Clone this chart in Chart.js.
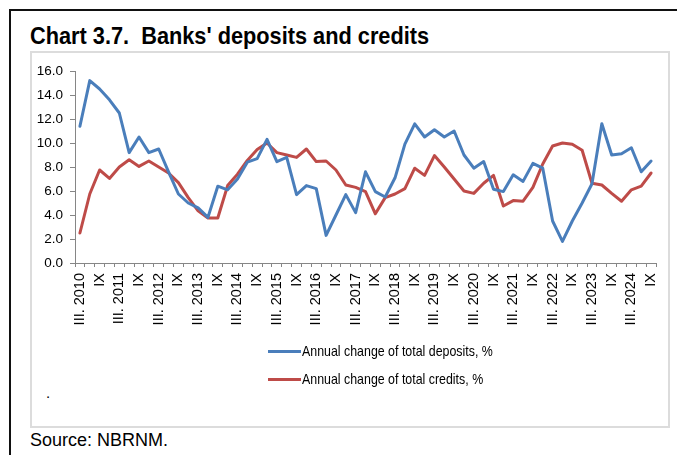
<!DOCTYPE html>
<html>
<head>
<meta charset="utf-8">
<script src="https://cdn.jsdelivr.net/npm/chart.js@4.4.1/dist/chart.umd.min.js"></script>
<style>
  html, body { margin: 0; padding: 0; background: #fff; }
  body { width: 677px; height: 455px; position: relative; overflow: hidden; }
  .frame { position: absolute; left: 9px; top: 9px; width: 700px; height: 480px;
           border-left: 2px solid #111; border-top: 2px solid #111; }
  /* narrow look: squeeze the regular face */
  .narrow { display: inline-block; transform-origin: 0 50%; white-space: nowrap; }
  .title { position: absolute; left: 30px; top: 22px; margin: 0;
           font: bold 24px "Liberation Sans", sans-serif; color: #000; white-space: nowrap; }
  .title .narrow { transform: scaleX(0.906); }
  .box { position: absolute; left: 30px; top: 51px; width: 636px; height: 373px;
         border: 2px solid #dcdcdc; }
  .plot { position: absolute; left: 30px; top: 53px; width: 637px; height: 290px; }
  .legend { position: absolute; left: 268px; top: 340px;
            font: 15px "Liberation Sans", sans-serif; color: #000; }
  .legend div { height: 28px; line-height: 20px; white-space: nowrap; }
  .legend .narrow { transform: scaleX(0.826); vertical-align: middle; }
  .legend span.mark { display: inline-block; width: 33px; height: 3px; vertical-align: middle;
                      margin-right: 1px; }
  .dot { position: absolute; left: 46px; top: 384px; font: 15px "Liberation Sans", sans-serif; }
  .source { position: absolute; left: 30px; top: 430px;
            font: 18px "Liberation Sans", sans-serif; color: #000; }
</style>
</head>
<body>
<div class="frame"></div>
<h1 class="title"><span class="narrow">Chart 3.7.&nbsp; Banks' deposits and credits</span></h1>
<div class="box"></div>
<div class="plot"><canvas id="chart"></canvas></div>
<div class="legend" id="legend"></div>
<div class="dot">.</div>
<div class="source">Source: NBRNM.</div>

<script>
// Quarters, March 2010 - September 2024
const years = [2010, 2011, 2012, 2013, 2014, 2015, 2016, 2017, 2018, 2019, 2020, 2021, 2022, 2023, 2024];
const months = ["III", "VI", "IX", "XII"];

// Annual change, %
const deposits = [
  11.4, 15.2, 14.5, 13.6,
  12.5, 9.2, 10.5, 9.2,
  9.5, 7.6, 5.75, 5.0,
  4.6, 3.8, 6.4, 6.1,
  7.0, 8.4, 8.7, 10.3,
  8.45, 8.8, 5.7, 6.45,
  6.2, 2.3, 4.0, 5.7,
  4.2, 7.6, 5.95, 5.5,
  7.1, 9.9, 11.6, 10.5,
  11.1, 10.5, 11.0, 9.0,
  7.9, 8.45, 6.15, 5.95,
  7.35, 6.8, 8.3, 7.9,
  3.5, 1.8, 3.5, 5.0,
  6.6, 11.6, 9.0, 9.1,
  9.6, 7.6, 8.5
];
const credits = [
  2.5, 5.75, 7.75, 7.05,
  8.0, 8.6, 8.05, 8.5,
  8.0, 7.5, 6.7, 5.45,
  4.35, 3.75, 3.75, 6.45,
  7.4, 8.55, 9.45, 10.0,
  9.2, 9.0, 8.8, 9.5,
  8.45, 8.5, 7.75, 6.5,
  6.3, 5.95, 4.1, 5.45,
  5.75, 6.2, 7.9, 7.3,
  8.95, 8.0, 7.0, 6.0,
  5.8, 6.65, 7.3, 4.75,
  5.2, 5.15, 6.3, 8.25,
  9.75, 10.0, 9.9, 9.4,
  6.65, 6.5, 5.8, 5.15,
  6.1, 6.4, 7.5
];

const seriesNames = ["Annual change of total deposits, %", "Annual change of total credits, %"];
const seriesColors = ["#4a7ebb", "#be4b48"];
const yTicks = [0, 2, 4, 6, 8, 10, 12, 14, 16];

// category labels; only March (with year) and September are printed
const categories = [];
years.forEach(y => months.forEach(m => categories.push(m + ". " + y)));
categories.length = deposits.length;

function tickText(i) {
  const [m, y] = categories[i].split(". ");
  if (m === "III") return "III. " + y;
  if (m === "IX") return "IX";
  return "";
}

const axisGrey = "#868686";

const chart = new Chart(document.getElementById("chart"), {
  type: "line",
  data: {
    labels: categories,
    datasets: [deposits, credits].map((d, i) => ({
      label: seriesNames[i],
      data: d,
      borderColor: seriesColors[i],
      backgroundColor: seriesColors[i],
      borderWidth: 3,
      pointRadius: 0,
      tension: 0,
      borderJoinStyle: "round",
      borderCapStyle: "round"
    }))
  },
  options: {
    responsive: true,
    maintainAspectRatio: false,
    animation: false,
    layout: { padding: { top: 18, right: 11, bottom: 0, left: 0 } },
    plugins: {
      legend: { display: false },
      tooltip: { enabled: false }
    },
    scales: {
      x: {
        offset: true,
        grid: { offset: true, drawOnChartArea: false, drawTicks: true, tickLength: 4, color: axisGrey },
        border: { color: axisGrey, width: 1 },
        ticks: {
          autoSkip: false,
          maxRotation: 90,
          minRotation: 90,
          padding: 6,
          color: "#000",
          font: { family: "Liberation Sans", size: 14.5 },
          callback: (v, i) => tickText(i)
        },
        afterFit: s => { s.height = 80; s.paddingLeft = 0; s.paddingRight = 0; }
      },
      y: {
        min: 0,
        max: 16,
        grid: { drawOnChartArea: false, drawTicks: true, tickLength: 5, color: axisGrey },
        border: { color: axisGrey, width: 1 },
        afterBuildTicks: s => { s.ticks = yTicks.map(v => ({ value: v })); },
        ticks: {
          padding: 7,
          color: "#000",
          font: { family: "Liberation Sans", size: 13.5 },
          callback: v => v.toFixed(1)
        },
        afterFit: s => { s.width = 45; s.paddingTop = 0; s.paddingBottom = 0; }
      }
    }
  }
});

// legend, two rows under the plot
const legendEl = document.getElementById("legend");
chart.data.datasets.forEach(ds => {
  const row = document.createElement("div");
  const mark = document.createElement("span");
  mark.className = "mark";
  mark.style.background = ds.borderColor;
  const text = document.createElement("span");
  text.className = "narrow";
  text.textContent = ds.label;
  row.appendChild(mark);
  row.appendChild(text);
  legendEl.appendChild(row);
});
</script>
</body>
</html>
